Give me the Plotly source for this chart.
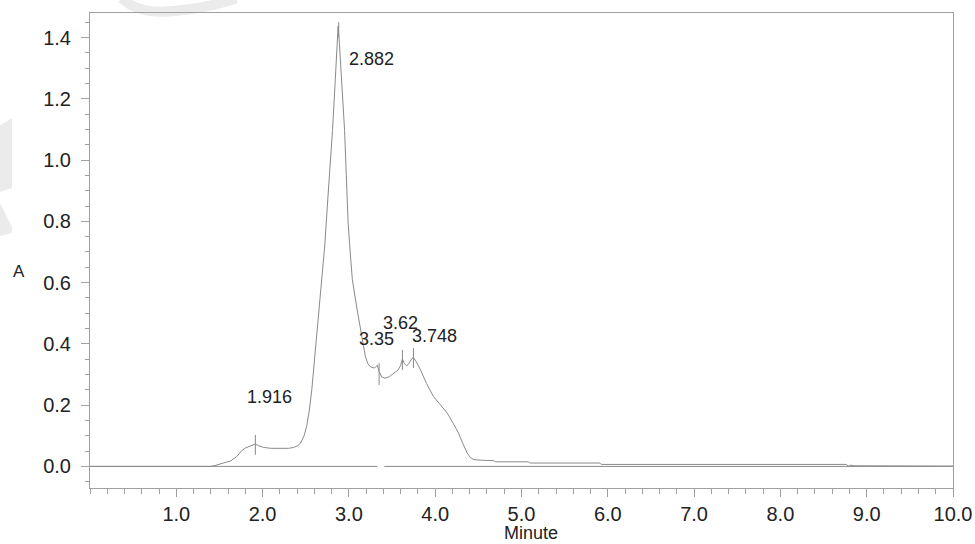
import plotly.graph_objects as go

# ---- data ----
time_min = [0.00, 1.40, 1.45, 1.55, 1.63, 1.70, 1.76, 1.80, 1.84, 1.88, 1.916, 1.95, 2.01, 2.10,
            2.21, 2.30, 2.36, 2.41, 2.44, 2.48, 2.51, 2.54, 2.57, 2.60, 2.63, 2.66, 2.69, 2.72,
            2.75, 2.78, 2.81, 2.84, 2.862, 2.875, 2.89, 2.91, 2.93, 2.95, 2.97, 2.99, 3.02, 3.04,
            3.09, 3.15, 3.19, 3.22, 3.25, 3.28, 3.30, 3.33, 3.35, 3.38, 3.42, 3.47, 3.52, 3.57,
            3.60, 3.62, 3.645, 3.67, 3.70, 3.73, 3.748, 3.78, 3.83, 3.90, 3.98, 4.06, 4.14, 4.21,
            4.27, 4.32, 4.37, 4.41, 4.45, 4.55, 4.67, 4.70, 5.08, 5.10, 5.90, 5.93, 8.76, 8.79,
            8.81, 8.83, 8.86, 10.0]
absorbance = [0.000, 0.000, 0.003, 0.010, 0.018, 0.032, 0.052, 0.060, 0.065, 0.068, 0.073, 0.068,
              0.062, 0.059, 0.058, 0.059, 0.062, 0.068, 0.076, 0.100, 0.130, 0.180, 0.250, 0.340,
              0.435, 0.520, 0.610, 0.720, 0.850, 0.960, 1.097, 1.250, 1.370, 1.437, 1.380, 1.280,
              1.180, 1.097, 0.950, 0.800, 0.680, 0.610, 0.520, 0.420, 0.360, 0.335, 0.325, 0.322,
              0.322, 0.330, 0.310, 0.292, 0.288, 0.293, 0.304, 0.315, 0.330, 0.350, 0.335, 0.328,
              0.338, 0.352, 0.355, 0.342, 0.315, 0.270, 0.228, 0.200, 0.174, 0.140, 0.109, 0.075,
              0.044, 0.028, 0.022, 0.020, 0.019, 0.015, 0.015, 0.011, 0.011, 0.0065, 0.0065, 0.001,
              0.004, 0.003, 0.002, 0.001]

peak_times = [1.916, 2.882, 3.35, 3.62, 3.748]
peak_labels = ["1.916", "2.882", "3.35", "3.62", "3.748"]
marker_low = [0.038, 1.400, 0.266, 0.315, 0.321]
marker_high = [0.103, 1.450, 0.337, 0.380, 0.386]

baseline_x = [0.0, 3.33, None, 3.41, 10.0]
baseline_y = [0.0, 0.0, None, 0.0, 0.0]

x_ticks = [1, 2, 3, 4, 5, 6, 7, 8, 9, 10]
x_ticktext = ["1.0", "2.0", "3.0", "4.0", "5.0", "6.0", "7.0", "8.0", "9.0", "10.0"]
y_ticks = [0.0, 0.2, 0.4, 0.6, 0.8, 1.0, 1.2, 1.4]
y_ticktext = ["0.0", "0.2", "0.4", "0.6", "0.8", "1.0", "1.2", "1.4"]

# ---- styles ----
LINE = "#8a8a8a"
AXIS = "#a0a0a0"
TEXT = "#222222"
WATERMARK = "#ebebeb"
FONT = "Liberation Sans, Arial, sans-serif"
label_xshift = [14, 33, -3, -2, 21]
label_yshift = [38, -37, 24, 27, 12]

fig = go.Figure()

fig.add_trace(go.Scatter(x=baseline_x, y=baseline_y, mode="lines",
                         line=dict(color=LINE, width=1), hoverinfo="skip", showlegend=False))
fig.add_trace(go.Scatter(x=time_min, y=absorbance, mode="lines",
                         line=dict(color=LINE, width=1), showlegend=False))

mx, my = [], []
for t, lo, hi in zip(peak_times, marker_low, marker_high):
    mx += [t, t, None]
    my += [lo, hi, None]
fig.add_trace(go.Scatter(x=mx, y=my, mode="lines",
                         line=dict(color=LINE, width=1), hoverinfo="skip", showlegend=False))

for t, hi, lab, dx, dy in zip(peak_times, marker_high, peak_labels, label_xshift, label_yshift):
    fig.add_annotation(x=t, y=hi, text=lab, showarrow=False, xshift=dx, yshift=dy,
                       xanchor="center", yanchor="middle",
                       font=dict(family=FONT, size=18, color=TEXT))

fig.add_annotation(xref="paper", yref="paper", x=-0.082, y=0.455, text="A", showarrow=False,
                   xanchor="center", yanchor="middle", font=dict(family=FONT, size=17, color=TEXT))
fig.add_annotation(xref="paper", yref="paper", x=0.511, y=-0.094, text="Minute", showarrow=False,
                   xanchor="center", yanchor="middle", font=dict(family=FONT, size=18, color=TEXT))


# faint background watermark fragments (page pixels -> paper coords)
def px(xp):
    return (xp - 90.0) / 863.0


def py(yp):
    return (488.3 - yp) / 475.6


arc = (f"M {px(122)},{py(-2)} Q {px(140)},{py(16)} {px(180)},{py(10)} "
       f"Q {px(215)},{py(6)} {px(236)},{py(-2)}")
fig.add_shape(type="path", xref="paper", yref="paper", path=arc, layer="below",
              line=dict(color=WATERMARK, width=10))
wedge1 = (f"M {px(0)},{py(125)} L {px(12)},{py(118)} L {px(12)},{py(188)} "
          f"L {px(0)},{py(192)} Z")
wedge2 = (f"M {px(0)},{py(203)} L {px(12)},{py(227)} L {px(12)},{py(233)} "
          f"L {px(0)},{py(236)} Z")
for w in (wedge1, wedge2):
    fig.add_shape(type="path", xref="paper", yref="paper", path=w, layer="below",
                  fillcolor=WATERMARK, line=dict(width=0))

fig.update_xaxes(range=[0, 10], tickvals=x_ticks, ticktext=x_ticktext, automargin=False,
                 showgrid=False, zeroline=False, showline=True, linecolor=AXIS, linewidth=1,
                 mirror=True, ticks="outside", ticklen=8, tickcolor=AXIS, tickwidth=1,
                 tickfont=dict(family=FONT, size=20, color=TEXT),
                 minor=dict(dtick=0.2, tick0=0, ticks="outside", ticklen=5, tickcolor=AXIS, tickwidth=1,
                            showgrid=False))
fig.update_yaxes(range=[-0.0705, 1.48], tickvals=y_ticks, ticktext=y_ticktext, automargin=False,
                 showgrid=False, zeroline=False, showline=True, linecolor=AXIS, linewidth=1,
                 mirror=True, ticks="outside", ticklen=8, tickcolor=AXIS, tickwidth=1,
                 ticklabelstandoff=6,
                 tickfont=dict(family=FONT, size=20, color=TEXT),
                 minor=dict(dtick=0.05, tick0=0, ticks="outside", ticklen=4, tickcolor=AXIS, tickwidth=1,
                            showgrid=False))

fig.update_layout(width=975, height=544, plot_bgcolor="rgba(0,0,0,0)", paper_bgcolor="white",
                  margin=dict(l=90, r=22, t=13, b=56), showlegend=False)

fig.write_html("out.html", config={"displayModeBar": False},
               post_script="document.body.style.margin='0';document.body.style.overflow='hidden';")
